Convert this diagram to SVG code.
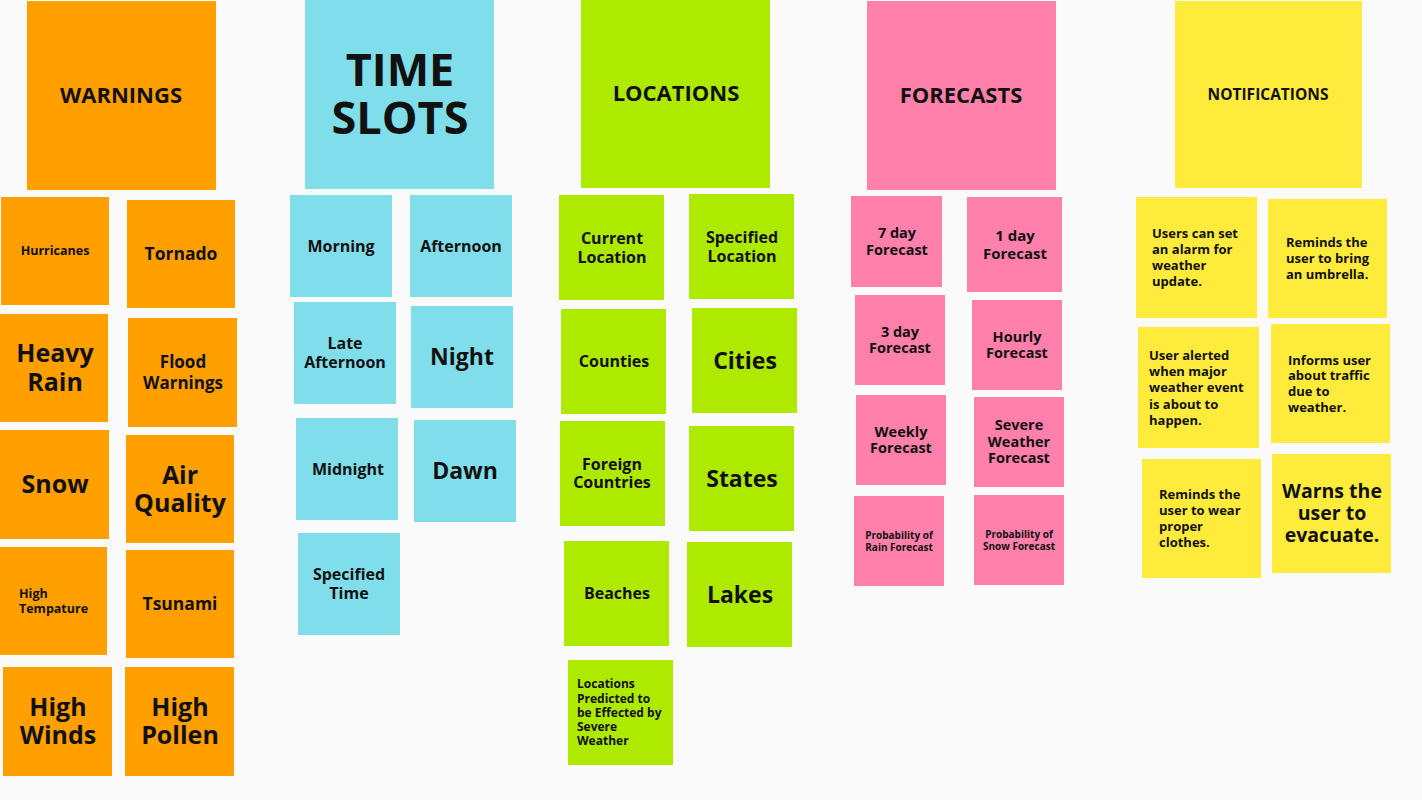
<svg xmlns="http://www.w3.org/2000/svg" width="1422" height="800" viewBox="0 0 1422 800">
  <style>
    .o { fill: #FF9F00; }
    .c { fill: #80DEEA; }
    .g { fill: #AEEA00; }
    .p { fill: #FF80AB; }
    .y { fill: #FFEB3B; }
    text { font-family: "Open Sans", "Liberation Sans", sans-serif; font-weight: 700; fill: #111; }
    .m { text-anchor: middle; }
  </style>
  <rect width="1422" height="800" fill="#FAFAFA"/>

  <!-- Warnings column -->
  <g id="warnings"><rect class="o" x="27" y="1" width="189" height="189"/><text class="m" x="121" y="103" font-size="22">WARNINGS</text></g>
  <g id="hurricanes"><rect class="o" x="1" y="197" width="108" height="108"/><text class="m" x="55" y="255" font-size="12.5">Hurricanes</text></g>
  <g id="tornado"><rect class="o" x="127" y="200" width="108" height="108"/><text class="m" x="181" y="260" font-size="17.5">Tornado</text></g>
  <g id="heavy-rain"><rect class="o" x="0" y="314" width="108" height="108"/><text class="m" x="55" font-size="25"><tspan x="55" y="362">Heavy</tspan><tspan x="55" y="391">Rain</tspan></text></g>
  <g id="flood-warnings"><rect class="o" x="128" y="318" width="109" height="109"/><text class="m" x="183" font-size="17"><tspan x="183" y="368">Flood</tspan><tspan x="183" y="389">Warnings</tspan></text></g>
  <g id="snow"><rect class="o" x="0" y="430" width="109" height="109"/><text class="m" x="55" y="493" font-size="25">Snow</text></g>
  <g id="air-quality"><rect class="o" x="126" y="435" width="108" height="108"/><text class="m" x="180" font-size="25"><tspan x="180" y="484">Air</tspan><tspan x="180" y="512">Quality</tspan></text></g>
  <g id="high-tempature"><rect class="o" x="0" y="547" width="107" height="108"/><text x="19" font-size="12.5"><tspan x="19" y="598">High</tspan><tspan x="19" y="613">Tempature</tspan></text></g>
  <g id="tsunami"><rect class="o" x="126" y="550" width="108" height="108"/><text class="m" x="180" y="610" font-size="17.5">Tsunami</text></g>
  <g id="high-winds"><rect class="o" x="3" y="667" width="109" height="109"/><text class="m" x="58" font-size="25"><tspan x="58" y="716">High</tspan><tspan x="58" y="744">Winds</tspan></text></g>
  <g id="high-pollen"><rect class="o" x="125" y="667" width="109" height="109"/><text class="m" x="180" font-size="25"><tspan x="180" y="716">High</tspan><tspan x="180" y="744">Pollen</tspan></text></g>

  <!-- Time slots column -->
  <g id="time-slots"><rect class="c" x="305" y="0" width="189" height="189"/><text class="m" x="400" font-size="45"><tspan x="400" y="86">TIME</tspan><tspan x="400" y="134">SLOTS</tspan></text></g>
  <g id="morning"><rect class="c" x="290" y="195" width="102" height="102"/><text class="m" x="341" y="252" font-size="16">Morning</text></g>
  <g id="afternoon"><rect class="c" x="410" y="195" width="102" height="102"/><text class="m" x="461" y="252" font-size="16">Afternoon</text></g>
  <g id="late-afternoon"><rect class="c" x="294" y="302" width="102" height="102"/><text class="m" x="345" font-size="16"><tspan x="345" y="349">Late</tspan><tspan x="345" y="368">Afternoon</tspan></text></g>
  <g id="night"><rect class="c" x="411" y="306" width="102" height="102"/><text class="m" x="462" y="365" font-size="23">Night</text></g>
  <g id="midnight"><rect class="c" x="296" y="418" width="102" height="102"/><text class="m" x="348" y="475" font-size="16">Midnight</text></g>
  <g id="dawn"><rect class="c" x="414" y="420" width="102" height="102"/><text class="m" x="465" y="479" font-size="23">Dawn</text></g>
  <g id="specified-time"><rect class="c" x="298" y="533" width="102" height="102"/><text class="m" x="349" font-size="16"><tspan x="349" y="580">Specified</tspan><tspan x="349" y="599">Time</tspan></text></g>

  <!-- Locations column -->
  <g id="locations"><rect class="g" x="581" y="0" width="189" height="188"/><text class="m" x="676" y="101" font-size="22">LOCATIONS</text></g>
  <g id="current-location"><rect class="g" x="559" y="195" width="105" height="105"/><text class="m" x="612" font-size="16"><tspan x="612" y="244">Current</tspan><tspan x="612" y="263">Location</tspan></text></g>
  <g id="specified-location"><rect class="g" x="689" y="194" width="105" height="105"/><text class="m" x="742" font-size="16"><tspan x="742" y="243">Specified</tspan><tspan x="742" y="262">Location</tspan></text></g>
  <g id="counties"><rect class="g" x="561" y="309" width="105" height="105"/><text class="m" x="614" y="367" font-size="16">Counties</text></g>
  <g id="cities"><rect class="g" x="692" y="308" width="105" height="105"/><text class="m" x="745" y="369" font-size="23">Cities</text></g>
  <g id="foreign-countries"><rect class="g" x="560" y="421" width="105" height="105"/><text class="m" x="612" font-size="16"><tspan x="612" y="470">Foreign</tspan><tspan x="612" y="488">Countries</tspan></text></g>
  <g id="states"><rect class="g" x="689" y="426" width="105" height="105"/><text class="m" x="742" y="487" font-size="23">States</text></g>
  <g id="beaches"><rect class="g" x="564" y="541" width="105" height="105"/><text class="m" x="617" y="599" font-size="16">Beaches</text></g>
  <g id="lakes"><rect class="g" x="687" y="542" width="105" height="105"/><text class="m" x="740" y="603" font-size="23">Lakes</text></g>
  <g id="predicted-locations"><rect class="g" x="568" y="660" width="105" height="105"/><text x="577" font-size="12"><tspan x="577" y="688">Locations</tspan><tspan x="577" y="703">Predicted to</tspan><tspan x="577" y="717">be Effected by</tspan><tspan x="577" y="731">Severe</tspan><tspan x="577" y="745">Weather</tspan></text></g>

  <!-- Forecasts column -->
  <g id="forecasts"><rect class="p" x="867" y="1" width="189" height="189"/><text class="m" x="961" y="103" font-size="22">FORECASTS</text></g>
  <g id="seven-day"><rect class="p" x="851" y="196" width="91" height="91"/><text class="m" x="897" font-size="14.5"><tspan x="897" y="238">7 day</tspan><tspan x="897" y="255">Forecast</tspan></text></g>
  <g id="one-day"><rect class="p" x="967" y="197" width="95" height="95"/><text class="m" x="1015" font-size="15"><tspan x="1015" y="241">1 day</tspan><tspan x="1015" y="259">Forecast</tspan></text></g>
  <g id="three-day"><rect class="p" x="855" y="295" width="90" height="90"/><text class="m" x="900" font-size="14.5"><tspan x="900" y="337">3 day</tspan><tspan x="900" y="353">Forecast</tspan></text></g>
  <g id="hourly"><rect class="p" x="972" y="300" width="90" height="90"/><text class="m" x="1017" font-size="14.5"><tspan x="1017" y="342">Hourly</tspan><tspan x="1017" y="358">Forecast</tspan></text></g>
  <g id="weekly"><rect class="p" x="856" y="395" width="90" height="90"/><text class="m" x="901" font-size="14.5"><tspan x="901" y="437">Weekly</tspan><tspan x="901" y="453">Forecast</tspan></text></g>
  <g id="severe-weather"><rect class="p" x="974" y="397" width="90" height="90"/><text class="m" x="1019" font-size="14.5"><tspan x="1019" y="430">Severe</tspan><tspan x="1019" y="447">Weather</tspan><tspan x="1019" y="463">Forecast</tspan></text></g>
  <g id="rain-probability"><rect class="p" x="854" y="496" width="90" height="90"/><text class="m" x="899" font-size="10"><tspan x="899" y="539">Probability of</tspan><tspan x="899" y="551">Rain Forecast</tspan></text></g>
  <g id="snow-probability"><rect class="p" x="974" y="495" width="90" height="90"/><text class="m" x="1019" font-size="10"><tspan x="1019" y="538">Probability of</tspan><tspan x="1019" y="550">Snow Forecast</tspan></text></g>

  <!-- Notifications column -->
  <g id="notifications"><rect class="y" x="1175" y="1" width="187" height="187"/><text class="m" x="1268" y="100" font-size="15.5">NOTIFICATIONS</text></g>
  <g id="alarm"><rect class="y" x="1136" y="197" width="121" height="121"/><text x="1152" font-size="13"><tspan x="1152" y="238">Users can set</tspan><tspan x="1152" y="254">an alarm for</tspan><tspan x="1152" y="270">weather</tspan><tspan x="1152" y="286">update.</tspan></text></g>
  <g id="umbrella"><rect class="y" x="1268" y="199" width="119" height="119"/><text x="1286" font-size="13"><tspan x="1286" y="247">Reminds the</tspan><tspan x="1286" y="263">user to bring</tspan><tspan x="1286" y="279">an umbrella.</tspan></text></g>
  <g id="major-event"><rect class="y" x="1138" y="327" width="121" height="121"/><text x="1149" font-size="13"><tspan x="1149" y="360">User alerted</tspan><tspan x="1149" y="376">when major</tspan><tspan x="1149" y="392">weather event</tspan><tspan x="1149" y="409">is about to</tspan><tspan x="1149" y="425">happen.</tspan></text></g>
  <g id="traffic"><rect class="y" x="1271" y="324" width="119" height="119"/><text x="1288" font-size="13"><tspan x="1288" y="365">Informs user</tspan><tspan x="1288" y="380">about traffic</tspan><tspan x="1288" y="396">due to</tspan><tspan x="1288" y="412">weather.</tspan></text></g>
  <g id="clothes"><rect class="y" x="1142" y="459" width="119" height="119"/><text x="1159" font-size="13"><tspan x="1159" y="499">Reminds the</tspan><tspan x="1159" y="515">user to wear</tspan><tspan x="1159" y="531">proper</tspan><tspan x="1159" y="547">clothes.</tspan></text></g>
  <g id="evacuate"><rect class="y" x="1272" y="454" width="119" height="119"/><text class="m" x="1332" font-size="19.5"><tspan x="1332" y="498">Warns the</tspan><tspan x="1332" y="520">user to</tspan><tspan x="1332" y="542">evacuate.</tspan></text></g>

  <!-- No connectors on this board -->
  <g id="connectors"/>
</svg>
